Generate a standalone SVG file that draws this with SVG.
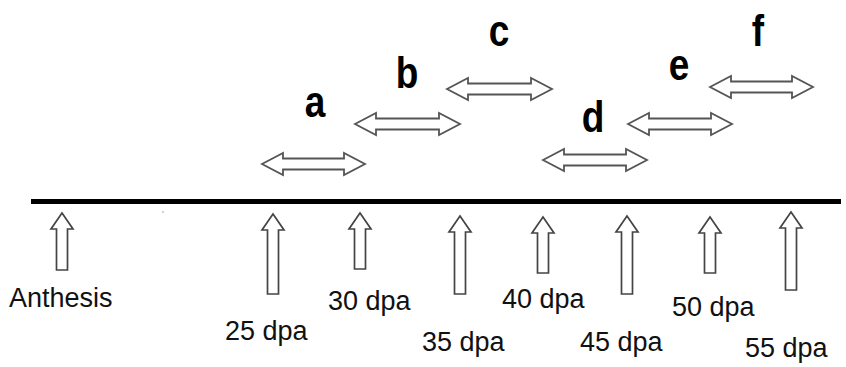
<svg xmlns="http://www.w3.org/2000/svg" width="846" height="367" viewBox="0 0 846 367">
<style>
.da{fill:#fff;stroke:#555;stroke-width:1.8;stroke-linejoin:miter}
.ua{fill:#fff;stroke:#444;stroke-width:1.7;stroke-linejoin:miter}
.lt{font-family:"Liberation Sans",Arial,sans-serif;font-weight:bold;font-size:37px;fill:#000;text-anchor:middle}
.lb{font-family:"Liberation Sans",Arial,sans-serif;font-size:27px;fill:#111}
</style>
<rect width="846" height="367" fill="#fff"/>
<g id="timeline">
<line x1="31" y1="201.5" x2="841" y2="201.5" stroke="#000" stroke-width="5"/>
<circle cx="163" cy="212" r="0.8" fill="#999"/>
</g>
<g id="connectors">
<path class="ua" d="M62,213 L73,229 L67.5,229 L67.5,270 L56.5,270 L56.5,229 L51,229 Z"/>
<path class="ua" d="M273,214 L284,230 L278.5,230 L278.5,294 L267.5,294 L267.5,230 L262,230 Z"/>
<path class="ua" d="M360,213 L371,229 L365.5,229 L365.5,269 L354.5,269 L354.5,229 L349,229 Z"/>
<path class="ua" d="M460,216 L471,232 L465.5,232 L465.5,294 L454.5,294 L454.5,232 L449,232 Z"/>
<path class="ua" d="M543,217 L554,233 L548.5,233 L548.5,273 L537.5,273 L537.5,233 L532,233 Z"/>
<path class="ua" d="M627,216 L638,232 L632.5,232 L632.5,294 L621.5,294 L621.5,232 L616,232 Z"/>
<path class="ua" d="M710,217 L721,233 L715.5,233 L715.5,273 L704.5,273 L704.5,233 L699,233 Z"/>
<path class="ua" d="M791,212 L802,228 L796.5,228 L796.5,290 L785.5,290 L785.5,228 L780,228 Z"/>
</g>
<g id="labels">
<text class="lb" x="9" y="307">Anthesis</text>
<text class="lb" x="225" y="340">25 dpa</text>
<text class="lb" x="328" y="310">30 dpa</text>
<text class="lb" x="422" y="351">35 dpa</text>
<text class="lb" x="502" y="308">40 dpa</text>
<text class="lb" x="580" y="351">45 dpa</text>
<text class="lb" x="672" y="316">50 dpa</text>
<text class="lb" x="745" y="357">55 dpa</text>
</g>
<g id="node-a">
<path class="da" d="M262,164 L283,153 L283,158.5 L344,158.5 L344,153 L365,164 L344,175 L344,169.5 L283,169.5 L283,175 Z"/>
<text class="lt" transform="translate(315,117) scale(1,1.2)">a</text>
</g>
<g id="node-b">
<path class="da" d="M355,124 L376,113 L376,118.5 L439,118.5 L439,113 L460,124 L439,135 L439,129.5 L376,129.5 L376,135 Z"/>
<text class="lt" transform="translate(407,88) scale(1,1.2)">b</text>
</g>
<g id="node-c">
<path class="da" d="M447,89 L468,78 L468,83.5 L531,83.5 L531,78 L552,89 L531,100 L531,94.5 L468,94.5 L468,100 Z"/>
<text class="lt" transform="translate(499,46) scale(1,1.2)">c</text>
</g>
<g id="node-d">
<path class="da" d="M543,160 L564,149 L564,154.5 L626,154.5 L626,149 L647,160 L626,171 L626,165.5 L564,165.5 L564,171 Z"/>
<text class="lt" transform="translate(593,132) scale(1,1.2)">d</text>
</g>
<g id="node-e">
<path class="da" d="M628,124 L649,113 L649,118.5 L711,118.5 L711,113 L732,124 L711,135 L711,129.5 L649,129.5 L649,135 Z"/>
<text class="lt" transform="translate(679,80) scale(1,1.2)">e</text>
</g>
<g id="node-f">
<path class="da" d="M710,87 L731,76 L731,81.5 L792,81.5 L792,76 L813,87 L792,98 L792,92.5 L731,92.5 L731,98 Z"/>
<text class="lt" transform="translate(758,46) scale(1,1.2)">f</text>
</g>
</svg>
